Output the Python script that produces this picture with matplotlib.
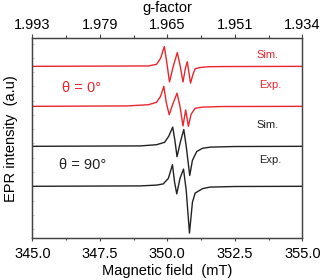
import matplotlib
matplotlib.use("Agg")
import matplotlib.pyplot as plt
from matplotlib.ticker import MultipleLocator, FixedLocator, NullFormatter

plt.rcParams['font.family'] = ['Liberation Sans', 'DejaVu Sans']

# ---- data ----
field_red_sim = [345.0, 349.3, 349.6, 349.75, 349.89, 349.98, 350.08, 350.22, 350.37, 350.48,
                 350.58, 350.67, 350.74, 350.80, 350.86, 350.95, 351.03, 351.2, 351.5, 352.0, 355.0]
int_red_sim = [0.0, 0.01, 0.05, 0.2, 0.495, 0.1, -0.39, 0.0, 0.345, 0.0,
               -0.39, -0.05, 0.115, -0.15, -0.42, -0.2, -0.06, -0.03, -0.01, -0.005, 0.0]

field_red_exp = [345.0, 348.5, 349.3, 349.6, 349.75, 349.87, 349.96, 350.07, 350.2, 350.36,
                 350.47, 350.58, 350.68, 350.78, 350.88, 351.03, 351.3, 352.0, 355.0]
int_red_exp = [0.0, 0.01, 0.04, 0.1, 0.25, 0.5, 0.1, -0.21, 0.05, 0.33,
               0.0, -0.49, -0.09, -0.5, -0.2, -0.05, -0.02, -0.005, 0.0]

field_blk_sim = [345.0, 349.0, 349.6, 349.9, 350.05, 350.2, 350.28, 350.36, 350.48, 350.61,
                 350.7, 350.83, 350.93, 351.09, 351.3, 351.6, 352.5, 355.0]
int_blk_sim = [0.0, 0.01, 0.04, 0.1, 0.25, 0.48, 0.15, -0.26, 0.1, 0.42,
               0.0, -0.73, -0.35, -0.13, -0.05, -0.02, -0.005, 0.0]

field_blk_exp = [345.0, 349.0, 349.6, 349.85, 350.04, 350.19, 350.27, 350.35, 350.47, 350.6,
                 350.7, 350.82, 350.93, 351.03, 351.3, 351.58, 352.5, 355.0]
int_blk_exp = [0.0, 0.01, 0.03, 0.06, 0.2, 0.54, 0.1, -0.19, 0.2, 0.43,
               -0.1, -1.17, -0.4, -0.17, -0.06, -0.02, -0.005, 0.0]

offsets = [3.0, 2.0, 1.0, 0.0]

bottom_ticks = [345.0, 347.5, 350.0, 352.5, 355.0]
bottom_labels = ["345.0", "347.5", "350.0", "352.5", "355.0"]
top_labels = ["1.993", "1.979", "1.965", "1.951", "1.934"]

RED = '#e8262d'
BLK = '#222222'

fig = plt.figure(figsize=(3.23, 2.80), dpi=100)
ax = fig.add_axes([0.1, 0.149, 0.836, 0.714])

ax.plot(field_red_sim, [v + offsets[0] for v in int_red_sim], color=RED, lw=1.0)
ax.plot(field_red_exp, [v + offsets[1] for v in int_red_exp], color=RED, lw=1.0)
ax.plot(field_blk_sim, [v + offsets[2] for v in int_blk_sim], color=BLK, lw=1.0)
ax.plot(field_blk_exp, [v + offsets[3] for v in int_blk_exp], color=BLK, lw=1.0)

ax.set_xlim(345, 355)
ax.set_ylim(-1.3, 3.7)

ax.xaxis.set_major_locator(FixedLocator(bottom_ticks))
ax.set_xticklabels(bottom_labels, fontsize=10.5)
ax.xaxis.set_minor_locator(MultipleLocator(1.25))
ax.tick_params(axis='x', which='major', direction='out', length=2.5, width=0.8, colors='#444444', labelcolor='black', pad=4)
ax.tick_params(axis='x', which='minor', direction='out', length=1.2, width=0.8, colors='#444444')

ax.yaxis.set_major_locator(MultipleLocator(5 / 14))
ax.yaxis.set_major_formatter(NullFormatter())
ax.tick_params(axis='y', which='major', direction='in', length=1.5, width=0.6, colors='#bbbbbb')

for s in ax.spines.values():
    s.set_color('#444444')
    s.set_linewidth(0.9)

ax.set_xlabel("Magnetic field  (mT)", fontsize=10.5, labelpad=2)
ax.set_ylabel("EPR intensity  (a.u)", fontsize=10.5, labelpad=7)

top = ax.twiny()
top.set_xlim(ax.get_xlim())
top.xaxis.set_major_locator(FixedLocator(bottom_ticks))
top.set_xticklabels(top_labels, fontsize=10.5)
top.xaxis.set_minor_locator(MultipleLocator(1.25))
top.tick_params(axis='x', which='major', direction='out', length=3, width=0.8, colors='#444444', labelcolor='black', pad=1.5)
top.tick_params(axis='x', which='minor', direction='out', length=2.5, width=0.8, colors='#444444')
for s in top.spines.values():
    s.set_color('#444444')
    s.set_linewidth(0.9)

fig.text((32.3 + 302.3) / 2 / 323, 1 - 8.0 / 280, "g-factor", fontsize=10.5, ha='center', va='center')

ax.text(353.7, 3.28, "Sim.", color=RED, fontsize=8, ha='center', va='center')
ax.text(353.8, 2.53, "Exp.", color=RED, fontsize=8, ha='center', va='center')
ax.text(353.7, 1.53, "Sim.", color=BLK, fontsize=8, ha='center', va='center')
ax.text(353.8, 0.65, "Exp.", color=BLK, fontsize=8, ha='center', va='center')

ax.text(346.83, 2.47, "θ = 0°", color=RED, fontsize=10.5, ha='center', va='center')
ax.text(346.88, 0.54, "θ = 90°", color=BLK, fontsize=10.5, ha='center', va='center')

fig.savefig("out.png", dpi=100)
